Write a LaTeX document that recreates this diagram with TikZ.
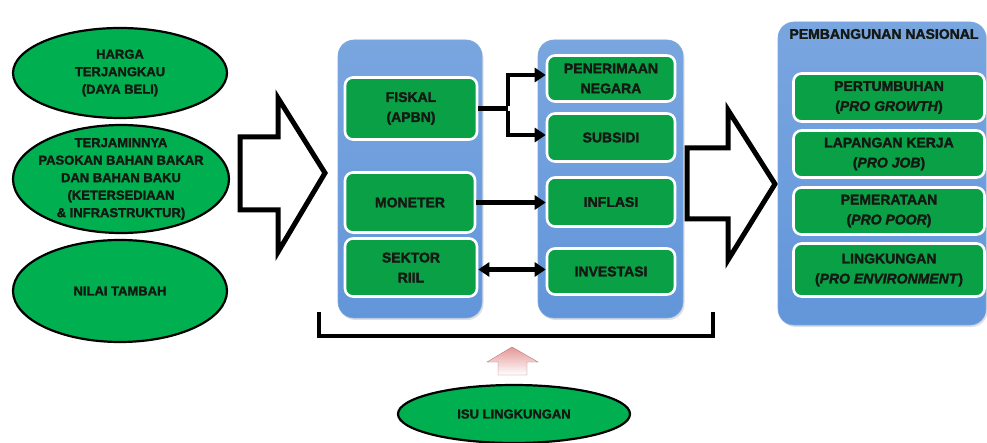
\documentclass[tikz,border=0pt]{standalone}
\usepackage{fontspec}
\setmainfont{Liberation Sans}[
  BoldFont={Liberation Sans Bold},
  ItalicFont={Liberation Sans Italic},
  BoldItalicFont={Liberation Sans Bold Italic},
  BoldFeatures={FakeBold=2},
  BoldItalicFeatures={FakeBold=2}]
\usetikzlibrary{shapes.geometric,arrows.meta,shadows}
\definecolor{ovalgreen}{RGB}{0,176,80}
\definecolor{boxgreen}{RGB}{10,160,70}
\definecolor{panelblue}{RGB}{98,150,218}
\definecolor{pinkup}{RGB}{228,150,150}
\definecolor{inkdark}{RGB}{20,25,20}
\tikzset{
  oval/.style={ellipse, draw=black, line width=2.2pt, fill=ovalgreen, inner sep=0pt},
  ovaltext/.style={align=center, text=inkdark, font=\bfseries\fontsize{13}{17.5}\selectfont},
  panel/.style={rounded corners=16pt, top color=panelblue!85!white, bottom color=panelblue,
    draw=panelblue!85!white, line width=0.6pt,
    drop shadow={opacity=0.25, shadow xshift=1.5pt, shadow yshift=-2pt}},
  gbox/.style={rounded corners=8pt, fill=boxgreen, draw=white, line width=2.6pt, inner sep=0pt,
    align=center, text=inkdark, font=\bfseries\fontsize{14}{20}\selectfont},
  conn/.style={line width=4.5pt, black},
  tip/.style={-{Triangle[length=11pt,width=14pt]}},
  hollow/.style={draw=black, fill=white, line width=5pt, line join=miter},
}
\begin{document}
\begin{tikzpicture}[x=1pt,y=-1pt]
\useasboundingbox (0,0) rectangle (987,443);

% left column of ovals
\node[oval, minimum width=214pt, minimum height=90pt] (e1) at (120,73) {};
\node[ovaltext] (t1) at (e1) {HARGA\\TERJANGKAU\\(DAYA BELI)};
\node[oval, minimum width=216pt, minimum height=108pt] (e2) at (121,179) {};
\node[ovaltext] (t2) at (e2) {TERJAMINNYA\\PASOKAN BAHAN BAKAR\\DAN BAHAN BAKU\\(KETERSEDIAAN\\\& INFRASTRUKTUR)};
\node[oval, minimum width=214pt, minimum height=102pt] (e3) at (120,291) {};
\node[ovaltext] (t3) at (e3) {NILAI TAMBAH};

% first hollow block arrow
\draw[hollow] (240,137) -- (278,137) -- (278,98) -- (325,173) -- (278,252) -- (278,210) -- (240,210) -- cycle;

% policy panels
\node[panel, minimum width=144pt, minimum height=278pt] (colA) at (410,179) {};
\node[panel, minimum width=145pt, minimum height=278pt] (colB) at (610.5,179) {};

\node[gbox, minimum width=132pt, minimum height=62pt] (fis) at (411,108.5) {FISKAL\\(APBN)};
\node[gbox, minimum width=130pt, minimum height=60pt] (mon) at (410,202.5) {MONETER};
\node[gbox, minimum width=132pt, minimum height=58pt] (sek) at (411,267.5) {SEKTOR\\RIIL};

\node[gbox, minimum width=128pt, minimum height=46pt] (pen) at (611,78.5) {PENERIMAAN\\NEGARA};
\node[gbox, minimum width=128pt, minimum height=48pt] (sub) at (611,137.5) {SUBSIDI};
\node[gbox, minimum width=128pt, minimum height=49pt] (inf) at (611,202) {INFLASI};
\node[gbox, minimum width=128pt, minimum height=46pt] (inv) at (611,271.5) {INVESTASI};

% connectors between the panels
\coordinate (fj) at (508,108.5);
\draw[conn] (fis.east) -- (fj);
\draw[conn, tip] ([yshift=2.25pt]fj) |- ([yshift=3.5pt]pen.west);
\draw[conn, tip] ([yshift=-2.25pt]fj) |- ([yshift=2.5pt]sub.west);
\draw[conn, tip] (mon.east) -- (mon.east -| inf.west);
\draw[conn, {Triangle[length=11pt,width=14pt]}-{Triangle[length=11pt,width=14pt]}] ([yshift=-2pt]sek.east) -- ([yshift=-2pt]sek.east -| inv.west);

% bracket under both panels
\draw[line width=3.5pt, line join=miter] (319,312) -- (319,336) -- (713,336) -- (713,312);

% second hollow block arrow
\draw[hollow] (687,148) -- (728,148) -- (728,110) -- (775,184) -- (728,260) -- (728,219) -- (687,219) -- cycle;

% national development panel
\node[panel, minimum width=208pt, minimum height=303pt] (colC) at (882,173.5) {};
\node[font=\bfseries\fontsize{14}{16}\selectfont, text=inkdark, inner sep=0pt] (title) at (884,34) {PEMBANGUNAN NASIONAL};
\node[gbox, minimum width=191pt, minimum height=48pt] (pt) at (889,97.5) {PERTUMBUHAN\\(\textit{PRO GROWTH})};
\node[gbox, minimum width=191pt, minimum height=47pt] (lk) at (889,154) {LAPANGAN KERJA\\(\textit{PRO JOB})};
\node[gbox, minimum width=191pt, minimum height=47pt] (pm) at (889,211) {PEMERATAAN\\(\textit{PRO POOR})};
\node[gbox, minimum width=191pt, minimum height=53pt] (lg) at (889,270) {LINGKUNGAN\\(\textit{PRO ENVIRONMENT})};

% environmental issue feeding in from below
\shade[top color=pinkup, bottom color=white, draw=pinkup!80!black, line width=0.4pt]
  (512,347) -- (538,362) -- (527,362) -- (527,375) -- (498,375) -- (498,362) -- (487,362) -- cycle;
\node[oval, minimum width=232pt, minimum height=58pt] (isu) at (514,414) {};
\node[ovaltext] (t4) at (isu) {ISU LINGKUNGAN};
\end{tikzpicture}
\end{document}
